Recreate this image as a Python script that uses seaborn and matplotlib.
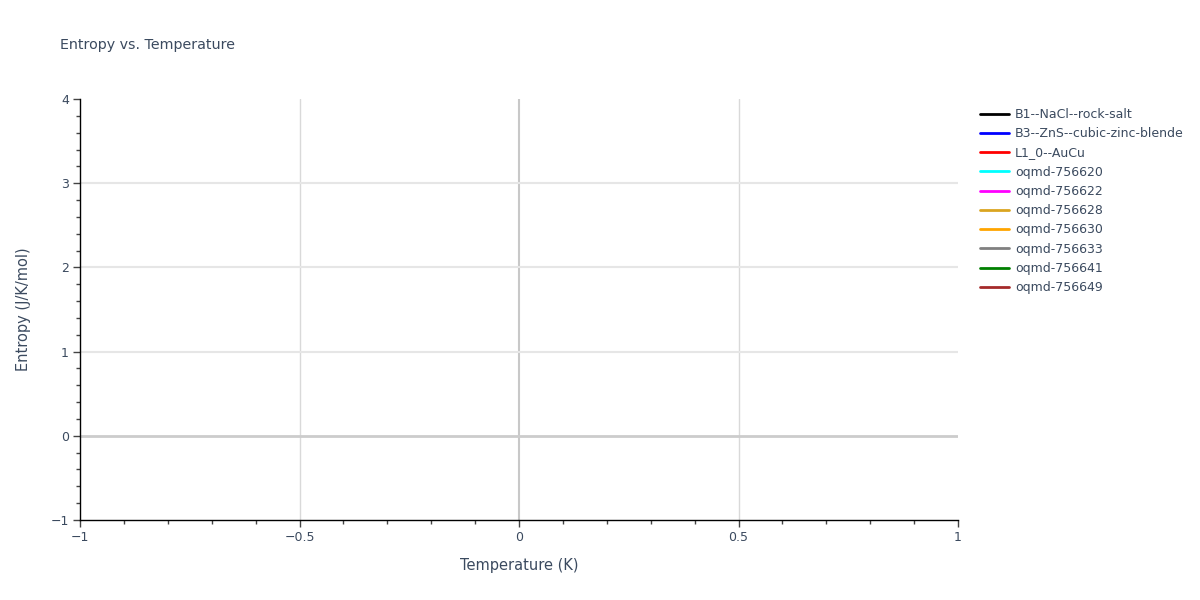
import seaborn as sns
import matplotlib.pyplot as plt
from matplotlib.ticker import MultipleLocator

# series shown in the legend (the source chart contains no data points)
series_names = [
    "B1--NaCl--rock-salt",
    "B3--ZnS--cubic-zinc-blende",
    "L1_0--AuCu",
    "oqmd-756620",
    "oqmd-756622",
    "oqmd-756628",
    "oqmd-756630",
    "oqmd-756633",
    "oqmd-756641",
    "oqmd-756649",
]
series_colors = ["black", "blue", "red", "cyan", "magenta", "goldenrod",
                 "orange", "gray", "green", "brown"]
temperature = [[] for _ in series_names]
entropy = [[] for _ in series_names]

x_ticks = [-1, -0.5, 0, 0.5, 1]
y_ticks = [-1, 0, 1, 2, 3, 4]

text_color = "#3b4a5f"

sns.set_theme(style="white")
plt.rcParams["font.family"] = ["DejaVu Sans"]

fig = plt.figure(figsize=(12, 6), dpi=100)
ax = fig.add_axes([80 / 1200, 80 / 600, 878 / 1200, 421 / 600])

for name, color, xs, ys in zip(series_names, series_colors, temperature, entropy):
    ax.plot(xs, ys, color=color, lw=2, label=name)

ax.set_xlim(-1, 1)
ax.set_ylim(-1, 4)
ax.set_xticks(x_ticks)
ax.set_xticklabels(["\u22121", "\u22120.5", "0", "0.5", "1"])
ax.set_yticks(y_ticks)
ax.set_yticklabels(["\u22121", "0", "1", "2", "3", "4"])
ax.xaxis.set_minor_locator(MultipleLocator(0.1))
ax.yaxis.set_minor_locator(MultipleLocator(0.2))

# grid lines
for xv in [-0.5, 0.5]:
    ax.axvline(xv, color="#d9d9d9", lw=1, zorder=0)
ax.axvline(0, color="#c8c8c8", lw=1.5, zorder=0)
for yv in [1, 2, 3]:
    ax.axhline(yv, color="#e6e6e6", lw=1.5, zorder=0)
ax.axhline(0, color="#cccccc", lw=2, zorder=0)

for side in ["top", "right"]:
    ax.spines[side].set_visible(False)
for side in ["left", "bottom"]:
    ax.spines[side].set_color("black")
    ax.spines[side].set_linewidth(1)

ax.tick_params(which="major", direction="out", length=5, width=1,
               color="#444444", labelsize=9, labelcolor=text_color,
               left=True, bottom=True, pad=3)
ax.tick_params(which="minor", direction="out", length=3, width=1,
               color="#444444", left=True, bottom=True)

ax.set_xlabel("Temperature (K)", fontsize=10.5, color=text_color, labelpad=10)
ax.set_ylabel("Entropy (J/K/mol)", fontsize=10.5, color=text_color, labelpad=14)

fig.text(60 / 1200, 1 - 45 / 600, "Entropy vs. Temperature", fontsize=10.3,
         color=text_color, va="center", ha="left")

leg = ax.legend(loc="upper left", bbox_to_anchor=(975 / 1200, 1 - 103 / 600),
                bbox_transform=fig.transFigure, frameon=False, fontsize=9,
                handlelength=2.3, handletextpad=0.5, labelspacing=0.5,
                borderaxespad=0)
for t in leg.get_texts():
    t.set_color(text_color)

fig.savefig("out.png", dpi=100)
